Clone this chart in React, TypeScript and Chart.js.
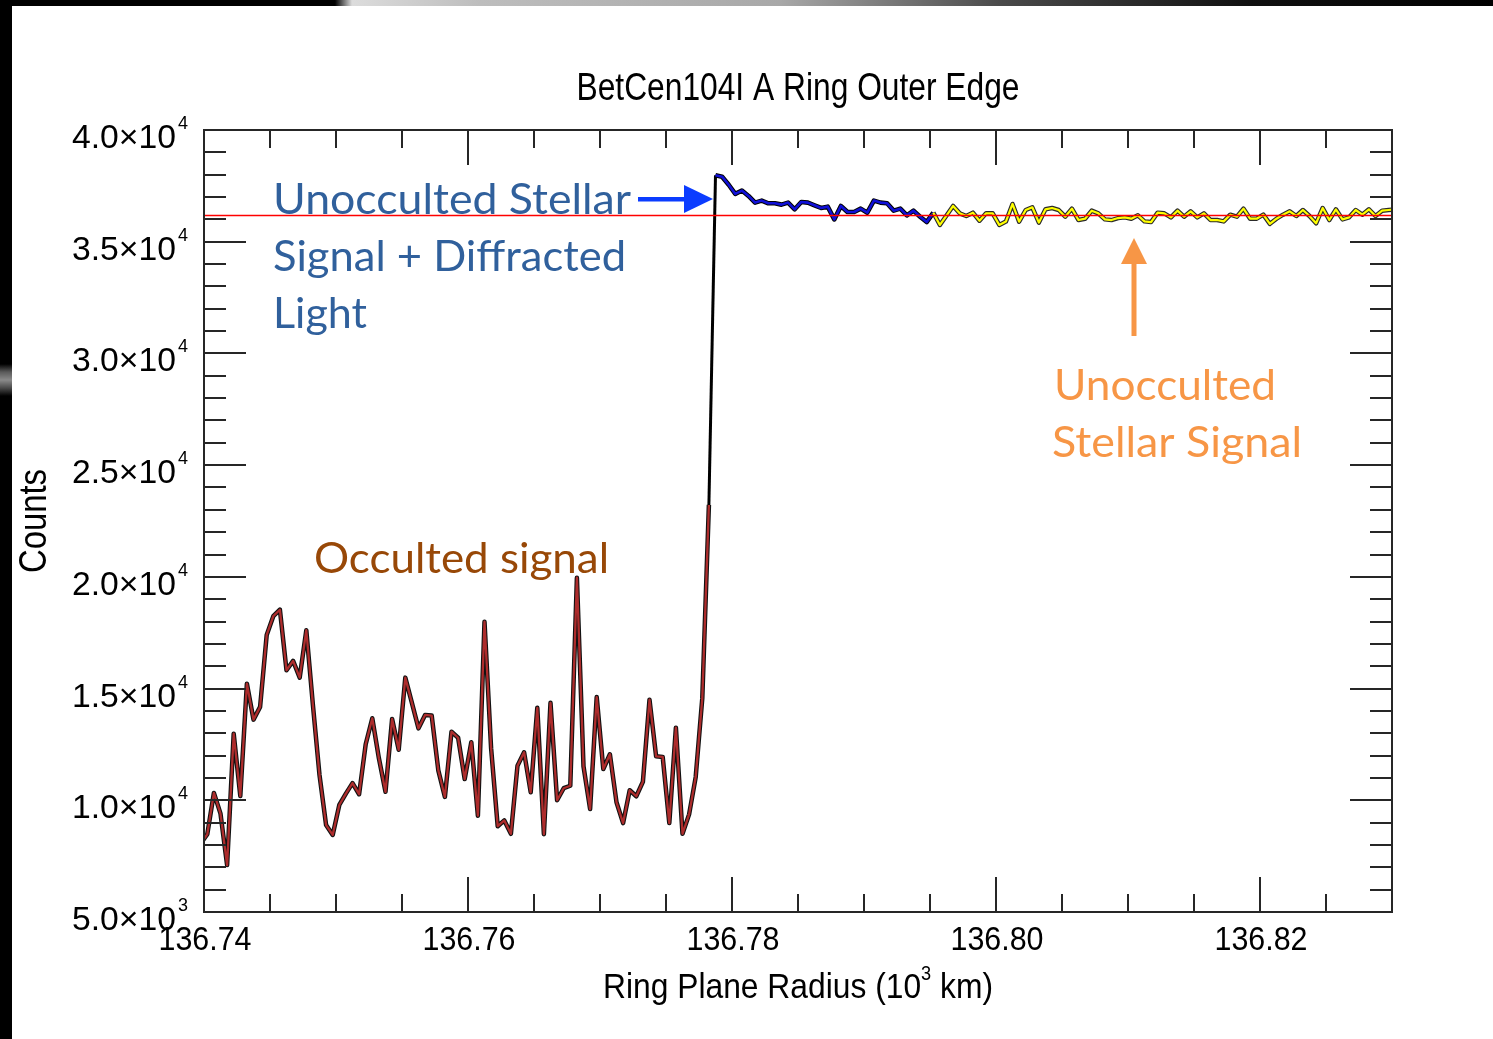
import React, { useEffect, useRef } from "react";
import { Chart, registerables } from "chart.js";

Chart.register(...registerables);

// ---- sampling grid (ring plane radius, 10^3 km) ----
const radiusStart = 136.73975;
const radiusStep = 0.0005;

// ---- series values (counts) ----
const occultedStartIndex = 0;
const occultedCounts = [
  8060, 8480, 10330, 9400, 7100, 12980, 10190, 15220, 13610, 14180,
  17400, 18240, 18530, 15820, 16240, 15490, 17610, 14270, 11130, 8890,
  8450, 9790, 10300, 10770, 10270, 12510, 13670, 11880, 10380, 13640,
  12260, 15490, 14360, 13220, 13820, 13790, 11340, 10150, 13070, 12800,
  10950, 12600, 9310, 17990, 12330, 8840, 9100, 8500, 11550, 12150,
  10360, 14140, 8480, 14360, 10000, 10540, 10650, 19960, 11520, 9610,
  14620, 11400, 12060, 9910, 8980, 10450, 10180, 10830, 14500, 11970,
  11940, 8980, 13250, 8500, 9370, 11040, 14570, 23220,
];

const edgeStartIndex = 77;
const edgeCounts = [23220, 37975];

const diffractedStartIndex = 78;
const diffractedCounts = [
  37975, 37910, 37550, 37140, 37290, 37050, 36750, 36840, 36720, 36720,
  36660, 36750, 36450, 36780, 36750, 36630, 36510, 36570, 36000, 36600,
  36330, 36330, 36480, 36300, 36840, 36750, 36720, 36390, 36480, 36180,
  36390, 36120, 35880, 36300,
];

const unoccultedStartIndex = 111;
const unoccultedCounts = [
  36300, 35750, 36170, 36600, 36270, 36150, 36300, 35940, 36270, 36270,
  35750, 35900, 36690, 35900, 36420, 36540, 35855, 36450, 36510, 36420,
  36120, 36480, 35970, 36030, 36390, 36270, 36000, 35970, 36060, 36090,
  36030, 36180, 35910, 35880, 36300, 36270, 36090, 36390, 36120, 36360,
  36090, 36270, 35970, 35970, 35910, 36210, 36120, 36480, 36030, 36030,
  36210, 35800, 36030, 36210, 36360, 36150, 36420, 36150, 35825, 36510,
  35970, 36450, 36000, 36090, 36420, 36210, 36450, 36150, 36390, 36420,
  36450,
];

const stellarLevel = 36170;

// ---- axes ----
const xMin = 136.74;
const xMax = 136.83;
const yMin = 5000;
const yMax = 40000;

const xMajorTicks = [136.74, 136.76, 136.78, 136.8, 136.82];
const xTickLabels = ["136.74", "136.76", "136.78", "136.80", "136.82"];
const xMinorTicks = [
  136.745, 136.75, 136.755, 136.765, 136.77, 136.775, 136.785, 136.79,
  136.795, 136.805, 136.81, 136.815, 136.825,
];

const yMajorTicks = [5000, 10000, 15000, 20000, 25000, 30000, 35000, 40000];
const yTickMantissas = ["5.0", "1.0", "1.5", "2.0", "2.5", "3.0", "3.5", "4.0"];
const yTickExponents = ["3", "4", "4", "4", "4", "4", "4", "4"];
const yMinorTicks = [
  6000, 7000, 8000, 9000, 11000, 12000, 13000, 14000, 16000, 17000, 18000,
  19000, 21000, 22000, 23000, 24000, 26000, 27000, 28000, 29000, 31000,
  32000, 33000, 34000, 36000, 37000, 38000, 39000,
];

// ---- texts ----
const titleText = "BetCen104I A Ring Outer Edge";
const yAxisTitle = "Counts";
const xAxisTitleParts = ["Ring Plane Radius (10", "3", " km)"];
const diffractedNote = ["Unocculted Stellar", "Signal + Diffracted", "Light"];
const occultedNote = "Occulted signal";
const unoccultedNote = ["Unocculted", "Stellar Signal"];

const toPoints = (start: number, counts: number[]) =>
  counts.map((c, k) => ({ x: radiusStart + (start + k) * radiusStep, y: c }));

const IDL_FONT = '"Liberation Sans", Arial, sans-serif';
const NOTE_FONT = 'Lato, "Open Sans", sans-serif';

function drawFit(
  ctx: CanvasRenderingContext2D,
  text: string,
  font: string,
  color: string,
  x: number,
  baseline: number,
  width: number,
  align: "left" | "center" | "right"
) {
  ctx.save();
  ctx.font = font;
  ctx.fillStyle = color;
  ctx.textAlign = "left";
  ctx.textBaseline = "alphabetic";
  const w = ctx.measureText(text).width;
  const sx = width / w;
  const left = align === "left" ? x : align === "center" ? x - width / 2 : x - width;
  ctx.translate(left, baseline);
  ctx.scale(sx, 1);
  ctx.fillText(text, 0, 0);
  ctx.restore();
}

const decorPlugin = {
  id: "decor",
  afterDatasetsDraw(chart: any) {
    const { ctx, chartArea: a } = chart;
    const xs = chart.scales.x;
    const ys = chart.scales.y;
    ctx.save();
    ctx.strokeStyle = "#262626";
    ctx.lineWidth = 2;
    ctx.lineCap = "butt";
    ctx.beginPath();
    const vx = (v: number, len: number) => {
      const px = Math.round(xs.getPixelForValue(v));
      ctx.moveTo(px, a.bottom);
      ctx.lineTo(px, a.bottom - len);
      ctx.moveTo(px, a.top);
      ctx.lineTo(px, a.top + len);
    };
    const hy = (v: number, len: number) => {
      const py = Math.round(ys.getPixelForValue(v));
      ctx.moveTo(a.left, py);
      ctx.lineTo(a.left + len, py);
      ctx.moveTo(a.right, py);
      ctx.lineTo(a.right - len, py);
    };
    xMajorTicks.forEach((v) => vx(v, 35));
    xMinorTicks.forEach((v) => vx(v, 18));
    yMajorTicks.forEach((v) => hy(v, 42));
    yMinorTicks.forEach((v) => hy(v, 22));
    ctx.stroke();
    ctx.strokeRect(a.left, a.top, a.right - a.left, a.bottom - a.top);
    ctx.restore();
  },
  afterDraw(chart: any) {
    const { ctx, chartArea: a } = chart;
    const xs = chart.scales.x;
    const ys = chart.scales.y;
    const cx = (a.left + a.right) / 2;
    const cy = (a.top + a.bottom) / 2;

    // title
    drawFit(ctx, titleText, `39px ${IDL_FONT}`, "#000", cx, 100, 443, "center");

    // x tick labels
    xMajorTicks.forEach((v, i) => {
      const px = xs.getPixelForValue(v);
      drawFit(ctx, xTickLabels[i], `33px ${IDL_FONT}`, "#000", px + 1, a.bottom + 38, 93, "center");
    });

    // y tick labels with exponent
    yMajorTicks.forEach((v, i) => {
      const py = ys.getPixelForValue(v);
      drawFit(ctx, `${yTickMantissas[i]}\u00d710`, `33px ${IDL_FONT}`, "#000", 176, py + 18, 104, "right");
      ctx.save();
      ctx.fillStyle = "#000";
      ctx.textBaseline = "alphabetic";
      ctx.font = `18px ${IDL_FONT}`;
      ctx.textAlign = "left";
      ctx.fillText(yTickExponents[i], 178, py - 1);
      ctx.restore();
    });

    // y axis title
    ctx.save();
    ctx.translate(46, cy);
    ctx.rotate(-Math.PI / 2);
    drawFit(ctx, yAxisTitle, `38px ${IDL_FONT}`, "#000", 0, 0, 104, "center");
    ctx.restore();

    // x axis title with superscript
    ctx.save();
    ctx.fillStyle = "#000";
    ctx.textBaseline = "alphabetic";
    ctx.textAlign = "left";
    const fonts = [`35px ${IDL_FONT}`, `20px ${IDL_FONT}`, `35px ${IDL_FONT}`];
    const dys = [0, -18, 0];
    const widths = xAxisTitleParts.map((t, i) => {
      ctx.font = fonts[i];
      return ctx.measureText(t).width;
    });
    const total = widths.reduce((s, w) => s + w, 0);
    const target = 390;
    const sx = target / total;
    let left = cx - target / 2;
    xAxisTitleParts.forEach((t, i) => {
      ctx.save();
      ctx.font = fonts[i];
      ctx.translate(left, 998 + dys[i]);
      ctx.scale(sx, 1);
      ctx.fillText(t, 0, 0);
      ctx.restore();
      left += widths[i] * sx;
    });
    ctx.restore();

    // annotations
    const blue = "#30609c";
    drawFit(ctx, diffractedNote[0], `42px ${NOTE_FONT}`, blue, 273, 214, 358, "left");
    drawFit(ctx, diffractedNote[1], `42px ${NOTE_FONT}`, blue, 273, 271, 353, "left");
    drawFit(ctx, diffractedNote[2], `42px ${NOTE_FONT}`, blue, 273, 328, 94, "left");
    drawFit(ctx, occultedNote, `42px ${NOTE_FONT}`, "#984807", 314, 573, 295, "left");
    drawFit(ctx, unoccultedNote[0], `42px ${NOTE_FONT}`, "#f79646", 1054, 400, 222, "left");
    drawFit(ctx, unoccultedNote[1], `42px ${NOTE_FONT}`, "#f79646", 1052, 457, 250, "left");

    // blue arrow
    ctx.save();
    ctx.fillStyle = "#0b3cff";
    ctx.fillRect(638, 197, 50, 4.5);
    ctx.beginPath();
    ctx.moveTo(684, 185);
    ctx.lineTo(713, 199);
    ctx.lineTo(684, 213);
    ctx.closePath();
    ctx.fill();
    // orange arrow
    ctx.fillStyle = "#f79646";
    ctx.fillRect(1131.5, 260, 5, 76);
    ctx.beginPath();
    ctx.moveTo(1121, 264);
    ctx.lineTo(1134, 238);
    ctx.lineTo(1147, 264);
    ctx.closePath();
    ctx.fill();
    ctx.restore();
  },
};

export default function App() {
  const canvasRef = useRef<HTMLCanvasElement | null>(null);

  useEffect(() => {
    document.body.style.margin = "0";
    const canvas = canvasRef.current;
    if (!canvas) return;

    const line = (data: any[], color: string, width: number, order: number) => ({
      data,
      borderColor: color,
      backgroundColor: color,
      borderWidth: width,
      pointRadius: 0,
      tension: 0,
      fill: false,
      clip: 0,
      borderJoinStyle: "round" as const,
      order,
    });

    const occulted = toPoints(occultedStartIndex, occultedCounts);
    const edge = toPoints(edgeStartIndex, edgeCounts);
    const diffracted = toPoints(diffractedStartIndex, diffractedCounts);
    const unocculted = toPoints(unoccultedStartIndex, unoccultedCounts);
    const level = [
      { x: xMin, y: stellarLevel },
      { x: xMax, y: stellarLevel },
    ];

    const chart = new Chart(canvas, {
      type: "line",
      data: {
        datasets: [
          line(level, "#ff0000", 1.5, 0),
          line(unocculted, "#ffff00", 2.2, 1),
          line(unocculted, "#2a2a2a", 4.5, 2),
          line(diffracted, "#1010d8", 2.6, 3),
          line(diffracted, "#000000", 4.6, 4),
          line(edge, "#000000", 3, 5),
          line(occulted, "#ad2c2c", 2.3, 6),
          line(occulted, "#111111", 4.5, 7),
        ],
      },
      options: {
        animation: false,
        responsive: false,
        devicePixelRatio: 1,
        layout: { padding: { left: 204, top: 130, right: 101, bottom: 127 } },
        scales: {
          x: { type: "linear", min: xMin, max: xMax, display: false },
          y: { type: "linear", min: yMin, max: yMax, display: false },
        },
        plugins: {
          legend: { display: false },
          tooltip: { enabled: false },
          title: { display: false },
        },
      },
      plugins: [decorPlugin],
    });

    return () => chart.destroy();
  }, []);

  return (
    <div
      style={{
        position: "absolute",
        left: 0,
        top: 0,
        width: 1493,
        height: 1039,
        background: "#fff",
        overflow: "hidden",
      }}
    >
      <canvas ref={canvasRef} width={1493} height={1039} style={{ display: "block" }} />
      <div
        style={{
          position: "absolute",
          left: 0,
          top: 0,
          width: 12,
          height: 1039,
          background:
            "linear-gradient(to bottom, #000 0px, #000 364px, #5a5a5a 372px, #8a8a8a 380px, #4a4a4a 388px, #000 396px, #000 1039px)",
        }}
      />
      <div
        style={{
          position: "absolute",
          left: 0,
          top: 0,
          width: 1493,
          height: 6,
          background:
            "linear-gradient(to right, #000 0px, #000 335px, #dcdcdc 352px, #bdbdbd 480px, #a8a8a8 780px, #4a4a4a 1000px, #101010 1250px, #000 1493px)",
        }}
      />
    </div>
  );
}
